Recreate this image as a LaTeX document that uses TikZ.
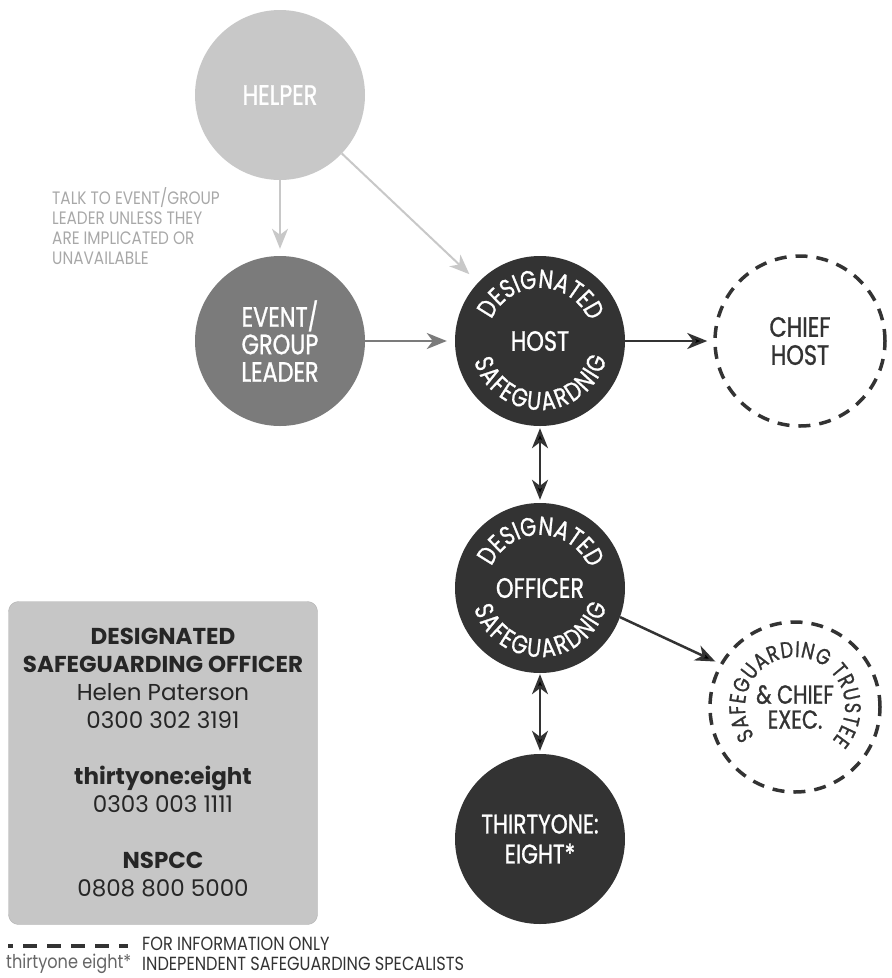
\documentclass[tikz,border=0pt]{standalone}
\usepackage{fontspec}
\setmainfont{Poppins}
\newfontfamily\narrowfont[FakeStretch=0.85]{Poppins}
\newfontfamily\ringfont[FakeStretch=0.8, FakeBold=1]{Poppins}
\usetikzlibrary{positioning,arrows.meta,decorations.text}
\definecolor{helpergray}{HTML}{C8C8C8}
\definecolor{leadergray}{HTML}{7B7B7B}
\definecolor{inkgray}{HTML}{333333}
\definecolor{boxgray}{HTML}{C6C6C6}
\definecolor{notegray}{HTML}{A8A8A8}

\begin{document}
\begin{tikzpicture}[x=1pt, y=1pt, node distance=250pt, on grid,
  bubble/.style={circle, minimum size=170pt, inner sep=0pt, align=center,
    font=\ringfont\fontsize{28}{28}\selectfont},
  helperbubble/.style={bubble, fill=helpergray, text=white},
  leaderbubble/.style={bubble, fill=leadergray, text=white},
  darkbubble/.style={bubble, fill=inkgray, text=white},
  infobubble/.style={bubble, draw=inkgray, line width=3.5pt, dash pattern=on 12pt off 9pt, text=inkgray},
  tip/.style={-{Stealth[length=20pt, width=16pt, inset=6pt]}},
  lightarrow/.style={tip, draw=helpergray, line width=2pt},
  midarrow/.style={tip, draw=leadergray, line width=2.5pt},
  darkarrow/.style={tip, draw=inkgray, line width=2.5pt},
  botharrow/.style={{Stealth[length=20pt, width=16pt, inset=6pt]}-{Stealth[length=20pt, width=16pt, inset=6pt]}, draw=inkgray, line width=2.5pt},
  contactbox/.style={draw=boxgray!90!black, fill=boxgray, rounded corners=10pt, minimum width=309pt, minimum height=323pt,
    align=center, font=\fontsize{23}{28}\selectfont, text=black!85},
  note/.style={align=left, text=notegray, inner sep=0pt, font=\narrowfont\fontsize{18}{20}\selectfont},
  legend/.style={anchor=west, inner sep=0pt, text=inkgray, font=\narrowfont\fontsize{19}{18}\selectfont}]
\useasboundingbox (0,0) rectangle (892,-978);

% circles
\node[helperbubble] (helper) at (280,-95) {HELPER};
\node[leaderbubble, font=\ringfont\fontsize{28}{27.5}\selectfont] (leader) [below=246pt of helper] {EVENT/\\GROUP\\LEADER};
\node[darkbubble] (host) [right=260pt of leader] {HOST};
\node[infobubble] (chief) [right=260pt of host] {CHIEF\\HOST};
\node[darkbubble] (dso) [below=247pt of host] {OFFICER};
\node[infobubble, font=\ringfont\fontsize{26}{25}\selectfont] (trustee) [below right=119pt and 255pt of dso] {\& CHIEF\\EXEC.};
\node[darkbubble, font=\ringfont\fontsize{27}{30}\selectfont] (thirtyone) [below=251pt of dso] {THIRTYONE:\\EIGHT*};

% words round the circles
\path[decorate, decoration={text along path, text align={fit to path}, text color=white,
  text={|\ringfont\fontsize{26}{26}\selectfont|DESIGNATED}}]
  ([shift={(156:53)}]host.center) arc[start angle=156, end angle=24, radius=53];
\path[decorate, decoration={text along path, text align={fit to path}, text color=white,
  text={|\ringfont\fontsize{26}{26}\selectfont|SAFEGUARDNIG}}]
  ([shift={(197:69)}]host.center) arc[start angle=197, end angle=345, radius=69];
\path[decorate, decoration={text along path, text align={fit to path}, text color=white,
  text={|\ringfont\fontsize{26}{26}\selectfont|DESIGNATED}}]
  ([shift={(156:53)}]dso.center) arc[start angle=156, end angle=24, radius=53];
\path[decorate, decoration={text along path, text align={fit to path}, text color=white,
  text={|\ringfont\fontsize{26}{26}\selectfont|SAFEGUARDNIG}}]
  ([shift={(197:69)}]dso.center) arc[start angle=197, end angle=345, radius=69];
\path[decorate, decoration={text along path, text align={fit to path}, text color=inkgray,
  text={|\ringfont\fontsize{22.5}{22.5}\selectfont|SAFEGUARDING TRUSTEE}}]
  ([shift={(216:50)}]trustee.center) arc[start angle=216, end angle=-42, radius=50];

% arrows
\draw[lightarrow, shorten >=7pt] (helper) -- (leader);
\draw[lightarrow, shorten >=12pt] (helper) -- (host);
\draw[midarrow, shorten >=8pt] (leader) -- (host);
\draw[darkarrow, shorten >=6pt] (host) -- (chief);
\draw[botharrow, shorten >=3pt, shorten <=2pt] (host) -- (dso);
\draw[darkarrow, shorten >=5pt] (dso.-20) -- (trustee.150);
\draw[botharrow, shorten >=3pt, shorten <=1pt] (dso) -- (thirtyone);

% note and contacts
\node[note, anchor=north west] (talk) at (52,-187) {TALK TO EVENT/GROUP\\LEADER UNLESS THEY\\ARE IMPLICATED OR\\UNAVAILABLE};
\node[contactbox] (contacts) at (163,-763) {\textbf{DESIGNATED}\\\textbf{SAFEGUARDING OFFICER}\\Helen Paterson\\0300 302 3191\\[28pt]
  \textbf{thirtyone:eight}\\0303 003 1111\\[28pt]\textbf{NSPCC}\\0808 800 5000};

% legend
\coordinate (dashA) at (8,-946);
\coordinate (dashB) at (128,-946);
\draw[inkgray, line width=4pt, dash pattern=on 14pt off 10pt, dash phase=9pt] (dashA) -- (dashB);
\node[legend] (infoonly) at (142,-944) {FOR INFORMATION ONLY};
\node[legend, text=black!60] (brand) at (6,-964) {thirtyone eight*};
\node[legend] (specialists) at (142,-964) {INDEPENDENT SAFEGUARDING SPECALISTS};
\end{tikzpicture}
\end{document}
